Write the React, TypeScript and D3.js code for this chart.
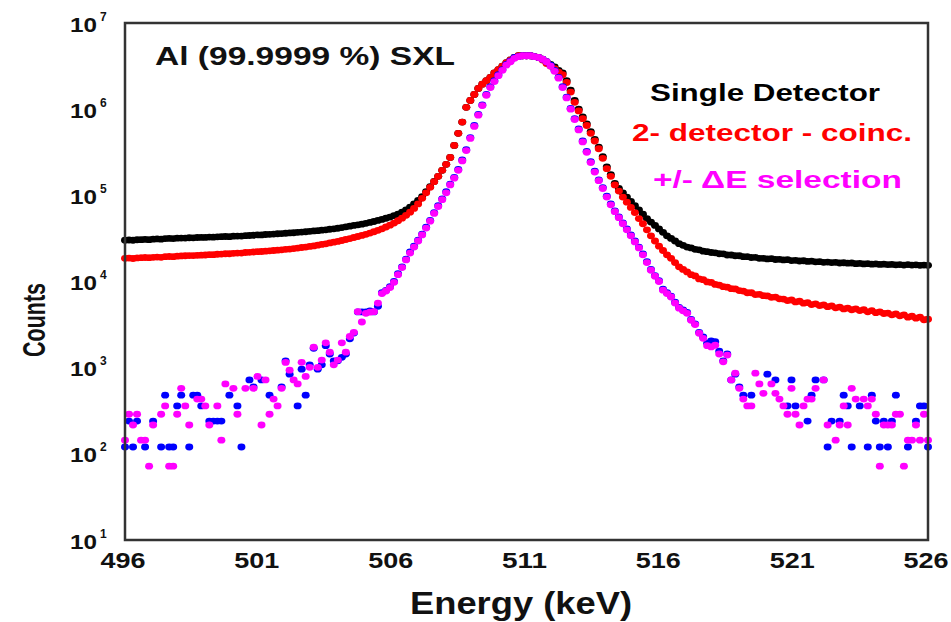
import React from "react";
import * as d3 from "d3";

// MCA channel grid: 496 keV .. 526 keV, 0.15 keV per channel (201 channels)
const channelStart = 496;
const channelWidth = 0.15;
const channelEnergies = d3.range(201).map((i) => channelStart + channelWidth * i);

// Single detector (black)
const singleDetector = [
  30200, 30300, 30100, 30500, 30600, 30800, 30600, 31000, 31200, 31000,
  31500, 31600, 31500, 31800, 31900, 31900, 32200, 32100, 32400, 32500,
  32500, 32800, 32700, 33000, 33100, 33300, 33100, 33600, 33700, 33700,
  34000, 34200, 34400, 34700, 34700, 35100, 35300, 35500, 35800, 36000,
  36300, 36600, 36800, 37200, 37500, 37800, 38200, 38600, 38900, 39400,
  39800, 40400, 40900, 41500, 42300, 43100, 43900, 44700, 45500, 46300,
  47300, 48500, 49700, 51100, 52500, 54200, 56000, 58100, 60500, 63800,
  67600, 72800, 79400, 87100, 96600, 110000, 126000, 145000, 166000, 195000,
  229000,
  275000, 380000, 525000, 708000, 1.05e6, 1.26e6, 1.48e6, 1.74e6, 1.95e6, 2.14e6,
  2.34e6, 2.63e6, 2.88e6, 3.16e6, 3.47e6, 3.72e6, 3.98e6, 4.17e6, 4.17e6, 4.17e6,
  4.17e6, 4.07e6, 3.98e6, 3.8e6, 3.55e6, 3.31e6, 3.09e6, 2.82e6, 2.63e6, 2.14e6,
  1.66e6, 1.26e6, 1.0e6, 813000, 676000, 550000, 447000, 363000, 282000, 214000,
  174000, 138000, 120000, 107000, 95500, 85100, 75900, 67600, 60300, 53700,
  49000, 44700, 40700, 37200, 33900, 31600, 29500, 27500, 26300, 25100,
  24500, 23600, 23300, 22500, 22200, 21700, 21500, 21000, 20900, 20300,
  20300, 19900, 19900, 19400, 19400, 19000, 19100, 18600, 18600, 18300,
  18400, 18000, 18100, 17800, 17900, 17500, 17600, 17300, 17400, 17100,
  17200, 16900, 17000, 16700, 16800, 16600, 16700, 16400, 16500, 16300,
  16400, 16100, 16200, 16000, 16100, 15900, 16000, 15800, 15900, 15700,
  15800, 15600, 15700, 15500, 15700, 15500, 15600, 15400, 15500, 15400,
];

// 2-detector coincidence (red)
const twoDetectorCoinc = [
  18600, 18700, 18500, 18800, 18900, 19000, 18900, 19100, 19200, 19100,
  19400, 19500, 19400, 19700, 19800, 19900, 20000, 20000, 20100, 20200,
  20300, 20500, 20500, 20700, 20800, 21000, 21000, 21200, 21400, 21400,
  21700, 21800, 22000, 22200, 22300, 22500, 22700, 22900, 23100, 23300,
  23600, 23800, 24100, 24400, 24800, 25100, 25500, 25900, 26400, 26900,
  27400, 28000, 28600, 29200, 29900, 30700, 31500, 32400, 33300, 34300,
  35300, 36500, 37800, 39300, 40900, 42900, 45100, 47600, 50700, 54300,
  58600, 63800, 70500, 79400, 92300, 107000, 124000, 144000, 166000, 195000,
  229000, 275000, 380000, 525000, 708000, 1.05e6, 1.26e6, 1.48e6, 1.74e6, 1.95e6,
  2.14e6, 2.34e6, 2.63e6, 2.88e6, 3.16e6, 3.47e6, 3.72e6, 3.98e6, 4.17e6, 4.17e6,
  4.17e6, 4.17e6, 4.07e6, 3.98e6, 3.72e6, 3.39e6, 3.16e6, 2.95e6, 2.69e6, 2.51e6,
  2.04e6, 1.58e6, 1.2e6, 955000, 776000, 646000, 525000, 427000, 347000, 269000,
  204000, 166000,
  132000, 112000, 95500, 83200, 72400, 63100, 53700, 46800, 39800, 33900,
  29500, 25700, 22900, 20400, 18600, 16600, 14800, 13800, 12900, 12000,
  11600, 10700, 10500, 9900, 9750, 9250, 9100, 8700, 8600, 8250,
  8200, 7850, 7750, 7400, 7400, 7050, 7100, 6850, 6800, 6550,
  6600, 6300, 6250, 6000, 6100, 5800, 5900, 5600, 5700, 5400,
  5500, 5250, 5350, 5100, 5200, 4950, 5050, 4800, 4900, 4700,
  4800, 4600, 4700, 4450, 4600, 4350, 4450, 4250, 4300, 4100,
  4200, 4000, 4100, 3850, 3950, 3750, 3850, 3600, 3650,
];

// +/- dE selection, raw (blue)
const deltaESelectionRaw = [
  120, 240, 120, 240, 0, 120, 0, 240, 0, 120,
  480, 120, 120, 360, 480, 0, 120, 480, 480, 360,
  0, 240, 240, 240, 240, 0, 480, 0, 360, 120,
  0, 720, 600, 0, 720, 0, 480, 0,
  0, 600, 1200, 840, 0, 360, 960, 480, 1080, 1680,
  960, 1080, 1800, 1440, 1200, 1200, 1320, 1440, 2160, 2520,
  4440, 4440, 4440, 4560, 4440, 5160,
  7400, 7900, 8700, 10000, 12300, 14800, 18200, 22000, 25700, 30200,
  35500, 42700, 51300, 63100, 75900, 91200, 110000, 135000, 162000, 200000,
  257000, 339000, 468000, 646000, 871000, 1.12e6, 1.48e6, 1.82e6, 2.14e6, 2.51e6,
  2.88e6, 3.31e6, 3.63e6, 3.98e6, 4.07e6, 4.17e6, 4.17e6, 4.17e6, 4.07e6, 3.98e6,
  3.8e6, 3.55e6, 3.24e6, 2.82e6, 2.34e6, 1.82e6, 1.38e6, 1.02e6, 776000, 589000,
  427000, 324000, 246000, 191000, 151000, 123000, 97700, 79400, 66100, 56200,
  47900, 40700, 34700, 29500, 25100, 20900, 17000, 13800, 11700, 10200,
  8130, 7410, 6760, 5750, 5010, 4680, 4370, 3630, 3230, 2570,
  2280, 1920, 2040, 2000, 1560, 1200, 1440, 720, 840, 600,
  480, 0, 480, 0, 0, 0, 840, 0, 720, 0,
  0, 360, 720, 360, 0, 0, 240, 480, 720, 0,
  720, 120, 240, 0, 240, 480, 360, 120, 0, 360,
  0, 120, 480, 240, 120, 240, 120, 240, 480, 0,
  0, 120, 0, 240, 360, 360, 120,
];

// +/- dE selection (magenta)
const deltaESelection = [
  144, 288, 216, 288, 144, 144, 72, 216, 0, 288,
  360, 72, 72, 288, 576, 360, 216, 0, 432, 432,
  360, 216, 0, 360, 144, 648, 0, 576, 288, 0,
  576, 0, 576, 792, 216, 720, 288,
  432, 360, 576, 1150, 936, 720, 648, 1152, 792, 1008,
  1728, 1008, 1224, 1944, 1512, 1080, 1224, 1944, 1512, 2300,
  2570, 4470, 3390, 4270, 4400, 4470, 5620,
  7240, 7760, 8510, 9770, 12000, 14500, 17800, 21400, 25100, 29500,
  34700, 41700, 50100, 61700, 74100, 89100, 107000, 132000, 158000, 195000,
  251000, 331000, 457000, 631000, 851000, 1.1e6, 1.45e6, 1.78e6, 2.09e6, 2.45e6,
  2.82e6, 3.24e6, 3.55e6, 3.89e6, 4.07e6, 4.17e6, 4.17e6,
  4.17e6, 4.07e6, 3.98e6, 3.8e6, 3.55e6, 3.16e6, 2.75e6, 2.29e6, 1.78e6, 1.35e6,
  1.0e6, 759000, 575000, 417000, 316000, 240000, 186000, 148000, 120000, 95500,
  77600,
  64600, 55000, 46800, 39800, 33900, 28800, 24500, 20400, 16600, 13500,
  11500, 10000,
  7940, 7240, 6610, 5620, 4900, 4570, 4270, 3550, 3160, 2510,
  2190, 1800, 1740, 1820, 1440, 1170, 1400, 720, 864, 576,
  432,
  360, 360, 864, 648, 504, 0, 648, 504, 432, 360,
  288, 576, 288, 216, 360, 432, 432, 576, 0, 720,
  216, 0, 144, 216, 360, 216, 576, 432, 0, 432,
  360, 432, 288, 72, 216, 216, 216, 288, 288, 72,
  144, 144, 216, 144, 288, 144,
];

const xTickValues = [496, 501, 506, 511, 516, 521, 526];
const yExponents = [1, 2, 3, 4, 5, 6, 7];

const seriesList = [
  { name: "Single Detector", values: singleDetector, color: "#000000" },
  { name: "2- detector - coinc.", values: twoDetectorCoinc, color: "#ff0000" },
  { name: "raw", values: deltaESelectionRaw, color: "#0000ff" },
  { name: "+/- \u0394E selection", values: deltaESelection, color: "#ff00ff" },
];

const W = 951;
const H = 622;
const plot = { left: 125, right: 928, top: 23, bottom: 540 };
const FONT = "'Liberation Sans', Arial, Helvetica, sans-serif";

export default function App() {
  const x = d3.scaleLinear().domain([496, 526]).range([plot.left, plot.right]);
  const y = d3.scaleLog().domain([10, 1e7]).range([plot.bottom, plot.top]);

  return (
    <svg
      width={W}
      height={H}
      style={{ position: "absolute", left: 0, top: 0, background: "#fff" }}
      fontFamily={FONT}
      fontWeight="bold"
    >
      <rect x={0} y={0} width={W} height={H} fill="#fff" />
      {seriesList.map((s) => (
        <g key={s.name} fill={s.color}>
          {s.values.map((v, i) =>
            v > 0 ? (
              <ellipse key={i} cx={x(channelEnergies[i])} cy={y(v)} rx={4} ry={3.4} />
            ) : null
          )}
        </g>
      ))}
      <rect
        x={plot.left}
        y={plot.top}
        width={plot.right - plot.left}
        height={plot.bottom - plot.top}
        fill="none"
        stroke="#333"
        strokeWidth={2.5}
      />
      {xTickValues.map((t) => (
        <text
          key={t}
          x={x(t) - 2 - 22.5}
          y={568}
          fontSize={22}
          textLength={45}
          lengthAdjust="spacingAndGlyphs"
          fill="#111"
        >
          {t}
        </text>
      ))}
      {yExponents.map((e) => {
        const yy = y(Math.pow(10, e));
        return (
          <g key={e} fill="#111">
            <text x={70} y={yy + 8.5} fontSize={21} textLength={27} lengthAdjust="spacingAndGlyphs">
              10
            </text>
            <text x={100} y={yy - 2.5} fontSize={12}>
              {e}
            </text>
          </g>
        );
      })}
      <text x={155} y={65} fontSize={25} textLength={300} lengthAdjust="spacingAndGlyphs" fill="#111">
        Al (99.9999 %) SXL
      </text>
      <text x={650} y={101} fontSize={23} textLength={230} lengthAdjust="spacingAndGlyphs" fill="#000">
        Single Detector
      </text>
      <text x={632} y={141} fontSize={23} textLength={280} lengthAdjust="spacingAndGlyphs" fill="#ff0000">
        2- detector - coinc.
      </text>
      <text x={653} y={188} fontSize={23} textLength={249} lengthAdjust="spacingAndGlyphs" fill="#ff00ff">
        {"+/- \u0394E selection"}
      </text>
      <text x={410} y={614} fontSize={31} textLength={222} lengthAdjust="spacingAndGlyphs" fill="#111">
        Energy (keV)
      </text>
      <text
        transform="translate(45,357) rotate(-90)"
        x={0}
        y={0}
        fontSize={31}
        textLength={74}
        lengthAdjust="spacingAndGlyphs"
        fill="#111"
      >
        Counts
      </text>
    </svg>
  );
}
